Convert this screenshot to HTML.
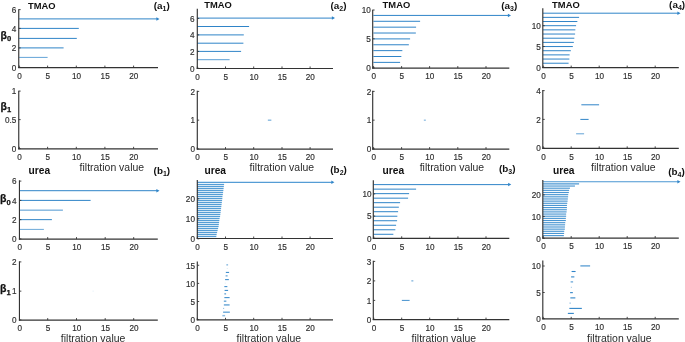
<!DOCTYPE html>
<html><head><meta charset="utf-8"><title>Betti barcodes</title>
<style>
html,body{margin:0;padding:0;background:#fff;}
svg{display:block;font-family:"Liberation Sans","DejaVu Sans",sans-serif;}
</style></head>
<body>
<svg width="685" height="342" viewBox="0 0 685 342">
<rect width="685" height="342" fill="#fff"/>
<line x1="19.10" y1="28.40" x2="78.80" y2="28.40" stroke="#2f84c8" stroke-width="1.0"/>
<line x1="19.10" y1="38.40" x2="76.80" y2="38.40" stroke="#2f84c8" stroke-width="1.0"/>
<line x1="19.10" y1="47.90" x2="63.60" y2="47.90" stroke="#2f84c8" stroke-width="1.0"/>
<line x1="19.10" y1="57.40" x2="47.60" y2="57.40" stroke="#2f84c8" stroke-width="1.0" stroke-opacity="0.75"/>
<line x1="19.10" y1="18.90" x2="157.00" y2="18.90" stroke="#2f84c8" stroke-width="1.0"/>
<path d="M156.40 17.15 L159.50 18.90 L156.40 20.65 Z" fill="#2f84c8"/>
<line x1="18.75" y1="9.30" x2="18.75" y2="68.10" stroke="#333" stroke-width="1.15"/>
<line x1="18.20" y1="67.60" x2="158.00" y2="67.60" stroke="#333" stroke-width="1.15"/>
<line x1="19.30" y1="67.60" x2="19.30" y2="65.60" stroke="#333" stroke-width="0.9"/>
<text transform="translate(19.55,78.95) scale(0.93,1.09)" font-size="8.8" text-anchor="middle" fill="#303030" stroke="#303030" stroke-width="0.18">0</text>
<line x1="47.60" y1="67.60" x2="47.60" y2="65.60" stroke="#333" stroke-width="0.9"/>
<text transform="translate(47.85,78.95) scale(0.93,1.09)" font-size="8.8" text-anchor="middle" fill="#303030" stroke="#303030" stroke-width="0.18">5</text>
<line x1="76.30" y1="67.60" x2="76.30" y2="65.60" stroke="#333" stroke-width="0.9"/>
<text transform="translate(76.55,78.95) scale(0.93,1.09)" font-size="8.8" text-anchor="middle" fill="#303030" stroke="#303030" stroke-width="0.18">10</text>
<line x1="104.90" y1="67.60" x2="104.90" y2="65.60" stroke="#333" stroke-width="0.9"/>
<text transform="translate(105.15,78.95) scale(0.93,1.09)" font-size="8.8" text-anchor="middle" fill="#303030" stroke="#303030" stroke-width="0.18">15</text>
<line x1="133.60" y1="67.60" x2="133.60" y2="65.60" stroke="#333" stroke-width="0.9"/>
<text transform="translate(133.85,78.95) scale(0.93,1.09)" font-size="8.8" text-anchor="middle" fill="#303030" stroke="#303030" stroke-width="0.18">20</text>
<line x1="18.75" y1="9.60" x2="20.65" y2="9.60" stroke="#333" stroke-width="0.9"/>
<text transform="translate(16.30,12.90) scale(0.93,1.09)" font-size="8.8" text-anchor="end" fill="#303030" stroke="#303030" stroke-width="0.18">6</text>
<line x1="18.75" y1="28.40" x2="20.65" y2="28.40" stroke="#333" stroke-width="0.9"/>
<text transform="translate(16.30,31.70) scale(0.93,1.09)" font-size="8.8" text-anchor="end" fill="#303030" stroke="#303030" stroke-width="0.18">4</text>
<line x1="18.75" y1="47.90" x2="20.65" y2="47.90" stroke="#333" stroke-width="0.9"/>
<text transform="translate(16.30,51.20) scale(0.93,1.09)" font-size="8.8" text-anchor="end" fill="#303030" stroke="#303030" stroke-width="0.18">2</text>
<line x1="18.75" y1="67.40" x2="20.65" y2="67.40" stroke="#333" stroke-width="0.9"/>
<text transform="translate(16.30,70.70) scale(0.93,1.09)" font-size="8.8" text-anchor="end" fill="#303030" stroke="#303030" stroke-width="0.18">0</text>
<line x1="197.10" y1="26.50" x2="249.10" y2="26.50" stroke="#2f84c8" stroke-width="1.0"/>
<line x1="197.10" y1="34.90" x2="243.80" y2="34.90" stroke="#2f84c8" stroke-width="1.0"/>
<line x1="197.10" y1="43.20" x2="243.40" y2="43.20" stroke="#2f84c8" stroke-width="1.0"/>
<line x1="197.10" y1="51.40" x2="241.10" y2="51.40" stroke="#2f84c8" stroke-width="1.0"/>
<line x1="197.10" y1="59.70" x2="229.60" y2="59.70" stroke="#2f84c8" stroke-width="1.0" stroke-opacity="0.8"/>
<line x1="197.10" y1="18.10" x2="332.50" y2="18.10" stroke="#2f84c8" stroke-width="1.0"/>
<path d="M331.90 16.35 L335.00 18.10 L331.90 19.85 Z" fill="#2f84c8"/>
<line x1="197.30" y1="8.80" x2="197.30" y2="68.95" stroke="#333" stroke-width="1.15"/>
<line x1="196.75" y1="68.45" x2="333.00" y2="68.45" stroke="#333" stroke-width="1.15"/>
<line x1="197.30" y1="68.45" x2="197.30" y2="66.45" stroke="#333" stroke-width="0.9"/>
<text transform="translate(197.55,79.80) scale(0.93,1.09)" font-size="8.8" text-anchor="middle" fill="#303030" stroke="#303030" stroke-width="0.18">0</text>
<line x1="225.50" y1="68.45" x2="225.50" y2="66.45" stroke="#333" stroke-width="0.9"/>
<text transform="translate(225.75,79.80) scale(0.93,1.09)" font-size="8.8" text-anchor="middle" fill="#303030" stroke="#303030" stroke-width="0.18">5</text>
<line x1="253.70" y1="68.45" x2="253.70" y2="66.45" stroke="#333" stroke-width="0.9"/>
<text transform="translate(253.95,79.80) scale(0.93,1.09)" font-size="8.8" text-anchor="middle" fill="#303030" stroke="#303030" stroke-width="0.18">10</text>
<line x1="282.00" y1="68.45" x2="282.00" y2="66.45" stroke="#333" stroke-width="0.9"/>
<text transform="translate(282.25,79.80) scale(0.93,1.09)" font-size="8.8" text-anchor="middle" fill="#303030" stroke="#303030" stroke-width="0.18">15</text>
<line x1="310.10" y1="68.45" x2="310.10" y2="66.45" stroke="#333" stroke-width="0.9"/>
<text transform="translate(310.35,79.80) scale(0.93,1.09)" font-size="8.8" text-anchor="middle" fill="#303030" stroke="#303030" stroke-width="0.18">20</text>
<line x1="197.30" y1="18.40" x2="199.20" y2="18.40" stroke="#333" stroke-width="0.9"/>
<text transform="translate(194.60,21.70) scale(0.93,1.09)" font-size="8.8" text-anchor="end" fill="#303030" stroke="#303030" stroke-width="0.18">6</text>
<line x1="197.30" y1="34.90" x2="199.20" y2="34.90" stroke="#333" stroke-width="0.9"/>
<text transform="translate(194.60,38.20) scale(0.93,1.09)" font-size="8.8" text-anchor="end" fill="#303030" stroke="#303030" stroke-width="0.18">4</text>
<line x1="197.30" y1="51.40" x2="199.20" y2="51.40" stroke="#333" stroke-width="0.9"/>
<text transform="translate(194.60,54.70) scale(0.93,1.09)" font-size="8.8" text-anchor="end" fill="#303030" stroke="#303030" stroke-width="0.18">2</text>
<line x1="197.30" y1="68.25" x2="199.20" y2="68.25" stroke="#333" stroke-width="0.9"/>
<text transform="translate(194.60,71.55) scale(0.93,1.09)" font-size="8.8" text-anchor="end" fill="#303030" stroke="#303030" stroke-width="0.18">0</text>
<line x1="373.40" y1="21.29" x2="420.10" y2="21.29" stroke="#2f84c8" stroke-width="1.0"/>
<line x1="373.40" y1="27.16" x2="416.10" y2="27.16" stroke="#2f84c8" stroke-width="1.0"/>
<line x1="373.40" y1="33.03" x2="415.85" y2="33.03" stroke="#2f84c8" stroke-width="1.0"/>
<line x1="373.40" y1="38.90" x2="410.10" y2="38.90" stroke="#2f84c8" stroke-width="1.0"/>
<line x1="373.40" y1="44.77" x2="408.85" y2="44.77" stroke="#2f84c8" stroke-width="1.0"/>
<line x1="373.40" y1="50.64" x2="402.35" y2="50.64" stroke="#2f84c8" stroke-width="1.0"/>
<line x1="373.40" y1="56.51" x2="401.35" y2="56.51" stroke="#2f84c8" stroke-width="1.0"/>
<line x1="373.40" y1="62.38" x2="400.10" y2="62.38" stroke="#2f84c8" stroke-width="1.0"/>
<line x1="373.40" y1="15.42" x2="508.50" y2="15.42" stroke="#2f84c8" stroke-width="1.0"/>
<path d="M507.90 13.67 L511.00 15.42 L507.90 17.17 Z" fill="#2f84c8"/>
<line x1="372.70" y1="9.80" x2="372.70" y2="68.60" stroke="#333" stroke-width="1.15"/>
<line x1="372.15" y1="68.10" x2="509.30" y2="68.10" stroke="#333" stroke-width="1.15"/>
<line x1="373.60" y1="68.10" x2="373.60" y2="66.10" stroke="#333" stroke-width="0.9"/>
<text transform="translate(373.85,79.45) scale(0.93,1.09)" font-size="8.8" text-anchor="middle" fill="#303030" stroke="#303030" stroke-width="0.18">0</text>
<line x1="401.60" y1="68.10" x2="401.60" y2="66.10" stroke="#333" stroke-width="0.9"/>
<text transform="translate(401.85,79.45) scale(0.93,1.09)" font-size="8.8" text-anchor="middle" fill="#303030" stroke="#303030" stroke-width="0.18">5</text>
<line x1="429.60" y1="68.10" x2="429.60" y2="66.10" stroke="#333" stroke-width="0.9"/>
<text transform="translate(429.85,79.45) scale(0.93,1.09)" font-size="8.8" text-anchor="middle" fill="#303030" stroke="#303030" stroke-width="0.18">10</text>
<line x1="457.80" y1="68.10" x2="457.80" y2="66.10" stroke="#333" stroke-width="0.9"/>
<text transform="translate(458.05,79.45) scale(0.93,1.09)" font-size="8.8" text-anchor="middle" fill="#303030" stroke="#303030" stroke-width="0.18">15</text>
<line x1="486.00" y1="68.10" x2="486.00" y2="66.10" stroke="#333" stroke-width="0.9"/>
<text transform="translate(486.25,79.45) scale(0.93,1.09)" font-size="8.8" text-anchor="middle" fill="#303030" stroke="#303030" stroke-width="0.18">20</text>
<line x1="372.70" y1="10.00" x2="374.60" y2="10.00" stroke="#333" stroke-width="0.9"/>
<text transform="translate(370.80,13.30) scale(0.93,1.09)" font-size="8.8" text-anchor="end" fill="#303030" stroke="#303030" stroke-width="0.18">10</text>
<line x1="372.70" y1="38.80" x2="374.60" y2="38.80" stroke="#333" stroke-width="0.9"/>
<text transform="translate(370.80,42.10) scale(0.93,1.09)" font-size="8.8" text-anchor="end" fill="#303030" stroke="#303030" stroke-width="0.18">5</text>
<line x1="372.70" y1="67.90" x2="374.60" y2="67.90" stroke="#333" stroke-width="0.9"/>
<text transform="translate(370.80,71.20) scale(0.93,1.09)" font-size="8.8" text-anchor="end" fill="#303030" stroke="#303030" stroke-width="0.18">0</text>
<line x1="543.00" y1="17.36" x2="579.10" y2="17.36" stroke="#2f84c8" stroke-width="1.0"/>
<line x1="543.00" y1="21.53" x2="577.35" y2="21.53" stroke="#2f84c8" stroke-width="1.0"/>
<line x1="543.00" y1="25.70" x2="576.10" y2="25.70" stroke="#2f84c8" stroke-width="1.0"/>
<line x1="543.00" y1="29.87" x2="575.35" y2="29.87" stroke="#2f84c8" stroke-width="1.0"/>
<line x1="543.00" y1="34.04" x2="575.10" y2="34.04" stroke="#2f84c8" stroke-width="1.0"/>
<line x1="543.00" y1="38.21" x2="574.35" y2="38.21" stroke="#2f84c8" stroke-width="1.0"/>
<line x1="543.00" y1="42.38" x2="573.85" y2="42.38" stroke="#2f84c8" stroke-width="1.0"/>
<line x1="543.00" y1="46.55" x2="572.85" y2="46.55" stroke="#2f84c8" stroke-width="1.0"/>
<line x1="543.00" y1="50.72" x2="570.85" y2="50.72" stroke="#2f84c8" stroke-width="1.0"/>
<line x1="543.00" y1="54.89" x2="569.60" y2="54.89" stroke="#2f84c8" stroke-width="1.0"/>
<line x1="543.00" y1="59.06" x2="569.35" y2="59.06" stroke="#2f84c8" stroke-width="1.0"/>
<line x1="543.00" y1="63.23" x2="568.60" y2="63.23" stroke="#2f84c8" stroke-width="1.0"/>
<line x1="543.00" y1="13.19" x2="678.00" y2="13.19" stroke="#2f84c8" stroke-width="1.0"/>
<path d="M677.40 11.44 L680.50 13.19 L677.40 14.94 Z" fill="#2f84c8"/>
<line x1="542.80" y1="8.20" x2="542.80" y2="68.10" stroke="#333" stroke-width="1.15"/>
<line x1="542.25" y1="67.60" x2="678.80" y2="67.60" stroke="#333" stroke-width="1.15"/>
<line x1="543.20" y1="67.60" x2="543.20" y2="65.60" stroke="#333" stroke-width="0.9"/>
<text transform="translate(543.45,78.95) scale(0.93,1.09)" font-size="8.8" text-anchor="middle" fill="#303030" stroke="#303030" stroke-width="0.18">0</text>
<line x1="571.20" y1="67.60" x2="571.20" y2="65.60" stroke="#333" stroke-width="0.9"/>
<text transform="translate(571.45,78.95) scale(0.93,1.09)" font-size="8.8" text-anchor="middle" fill="#303030" stroke="#303030" stroke-width="0.18">5</text>
<line x1="599.20" y1="67.60" x2="599.20" y2="65.60" stroke="#333" stroke-width="0.9"/>
<text transform="translate(599.45,78.95) scale(0.93,1.09)" font-size="8.8" text-anchor="middle" fill="#303030" stroke="#303030" stroke-width="0.18">10</text>
<line x1="627.20" y1="67.60" x2="627.20" y2="65.60" stroke="#333" stroke-width="0.9"/>
<text transform="translate(627.45,78.95) scale(0.93,1.09)" font-size="8.8" text-anchor="middle" fill="#303030" stroke="#303030" stroke-width="0.18">15</text>
<line x1="655.20" y1="67.60" x2="655.20" y2="65.60" stroke="#333" stroke-width="0.9"/>
<text transform="translate(655.45,78.95) scale(0.93,1.09)" font-size="8.8" text-anchor="middle" fill="#303030" stroke="#303030" stroke-width="0.18">20</text>
<line x1="542.80" y1="25.70" x2="544.70" y2="25.70" stroke="#333" stroke-width="0.9"/>
<text transform="translate(540.90,29.00) scale(0.93,1.09)" font-size="8.8" text-anchor="end" fill="#303030" stroke="#303030" stroke-width="0.18">10</text>
<line x1="542.80" y1="46.50" x2="544.70" y2="46.50" stroke="#333" stroke-width="0.9"/>
<text transform="translate(540.90,49.80) scale(0.93,1.09)" font-size="8.8" text-anchor="end" fill="#303030" stroke="#303030" stroke-width="0.18">5</text>
<line x1="542.80" y1="67.40" x2="544.70" y2="67.40" stroke="#333" stroke-width="0.9"/>
<text transform="translate(540.90,70.70) scale(0.93,1.09)" font-size="8.8" text-anchor="end" fill="#303030" stroke="#303030" stroke-width="0.18">0</text>
<line x1="18.75" y1="90.80" x2="18.75" y2="149.30" stroke="#333" stroke-width="1.15"/>
<line x1="18.20" y1="148.80" x2="158.00" y2="148.80" stroke="#333" stroke-width="1.15"/>
<line x1="19.30" y1="148.80" x2="19.30" y2="146.80" stroke="#333" stroke-width="0.9"/>
<text transform="translate(19.55,160.15) scale(0.93,1.09)" font-size="8.8" text-anchor="middle" fill="#303030" stroke="#303030" stroke-width="0.18">0</text>
<line x1="47.60" y1="148.80" x2="47.60" y2="146.80" stroke="#333" stroke-width="0.9"/>
<text transform="translate(47.85,160.15) scale(0.93,1.09)" font-size="8.8" text-anchor="middle" fill="#303030" stroke="#303030" stroke-width="0.18">5</text>
<line x1="76.30" y1="148.80" x2="76.30" y2="146.80" stroke="#333" stroke-width="0.9"/>
<text transform="translate(76.55,160.15) scale(0.93,1.09)" font-size="8.8" text-anchor="middle" fill="#303030" stroke="#303030" stroke-width="0.18">10</text>
<line x1="104.90" y1="148.80" x2="104.90" y2="146.80" stroke="#333" stroke-width="0.9"/>
<text transform="translate(105.15,160.15) scale(0.93,1.09)" font-size="8.8" text-anchor="middle" fill="#303030" stroke="#303030" stroke-width="0.18">15</text>
<line x1="133.60" y1="148.80" x2="133.60" y2="146.80" stroke="#333" stroke-width="0.9"/>
<text transform="translate(133.85,160.15) scale(0.93,1.09)" font-size="8.8" text-anchor="middle" fill="#303030" stroke="#303030" stroke-width="0.18">20</text>
<line x1="18.75" y1="91.10" x2="20.65" y2="91.10" stroke="#333" stroke-width="0.9"/>
<text transform="translate(16.30,94.40) scale(0.93,1.09)" font-size="8.8" text-anchor="end" fill="#303030" stroke="#303030" stroke-width="0.18">1</text>
<line x1="18.75" y1="119.60" x2="20.65" y2="119.60" stroke="#333" stroke-width="0.9"/>
<text transform="translate(16.30,122.90) scale(0.93,1.09)" font-size="8.8" text-anchor="end" fill="#303030" stroke="#303030" stroke-width="0.18">0.5</text>
<line x1="18.75" y1="148.60" x2="20.65" y2="148.60" stroke="#333" stroke-width="0.9"/>
<text transform="translate(16.30,151.90) scale(0.93,1.09)" font-size="8.8" text-anchor="end" fill="#303030" stroke="#303030" stroke-width="0.18">0</text>
<line x1="267.85" y1="120.15" x2="271.35" y2="120.15" stroke="#2f84c8" stroke-width="1.0" stroke-opacity="0.8"/>
<line x1="197.30" y1="90.80" x2="197.30" y2="149.60" stroke="#333" stroke-width="1.15"/>
<line x1="196.75" y1="149.10" x2="333.00" y2="149.10" stroke="#333" stroke-width="1.15"/>
<line x1="197.30" y1="149.10" x2="197.30" y2="147.10" stroke="#333" stroke-width="0.9"/>
<text transform="translate(197.55,160.45) scale(0.93,1.09)" font-size="8.8" text-anchor="middle" fill="#303030" stroke="#303030" stroke-width="0.18">0</text>
<line x1="225.50" y1="149.10" x2="225.50" y2="147.10" stroke="#333" stroke-width="0.9"/>
<text transform="translate(225.75,160.45) scale(0.93,1.09)" font-size="8.8" text-anchor="middle" fill="#303030" stroke="#303030" stroke-width="0.18">5</text>
<line x1="253.70" y1="149.10" x2="253.70" y2="147.10" stroke="#333" stroke-width="0.9"/>
<text transform="translate(253.95,160.45) scale(0.93,1.09)" font-size="8.8" text-anchor="middle" fill="#303030" stroke="#303030" stroke-width="0.18">10</text>
<line x1="282.00" y1="149.10" x2="282.00" y2="147.10" stroke="#333" stroke-width="0.9"/>
<text transform="translate(282.25,160.45) scale(0.93,1.09)" font-size="8.8" text-anchor="middle" fill="#303030" stroke="#303030" stroke-width="0.18">15</text>
<line x1="310.10" y1="149.10" x2="310.10" y2="147.10" stroke="#333" stroke-width="0.9"/>
<text transform="translate(310.35,160.45) scale(0.93,1.09)" font-size="8.8" text-anchor="middle" fill="#303030" stroke="#303030" stroke-width="0.18">20</text>
<line x1="197.30" y1="91.40" x2="199.20" y2="91.40" stroke="#333" stroke-width="0.9"/>
<text transform="translate(194.95,94.70) scale(0.93,1.09)" font-size="8.8" text-anchor="end" fill="#303030" stroke="#303030" stroke-width="0.18">2</text>
<line x1="197.30" y1="120.15" x2="199.20" y2="120.15" stroke="#333" stroke-width="0.9"/>
<text transform="translate(194.95,123.45) scale(0.93,1.09)" font-size="8.8" text-anchor="end" fill="#303030" stroke="#303030" stroke-width="0.18">1</text>
<line x1="197.30" y1="148.90" x2="199.20" y2="148.90" stroke="#333" stroke-width="0.9"/>
<text transform="translate(194.95,152.20) scale(0.93,1.09)" font-size="8.8" text-anchor="end" fill="#303030" stroke="#303030" stroke-width="0.18">0</text>
<line x1="423.85" y1="120.15" x2="425.85" y2="120.15" stroke="#2f84c8" stroke-width="1.0" stroke-opacity="0.7"/>
<line x1="372.70" y1="90.80" x2="372.70" y2="149.60" stroke="#333" stroke-width="1.15"/>
<line x1="372.15" y1="149.10" x2="509.30" y2="149.10" stroke="#333" stroke-width="1.15"/>
<line x1="373.60" y1="149.10" x2="373.60" y2="147.10" stroke="#333" stroke-width="0.9"/>
<text transform="translate(373.85,160.45) scale(0.93,1.09)" font-size="8.8" text-anchor="middle" fill="#303030" stroke="#303030" stroke-width="0.18">0</text>
<line x1="401.60" y1="149.10" x2="401.60" y2="147.10" stroke="#333" stroke-width="0.9"/>
<text transform="translate(401.85,160.45) scale(0.93,1.09)" font-size="8.8" text-anchor="middle" fill="#303030" stroke="#303030" stroke-width="0.18">5</text>
<line x1="429.60" y1="149.10" x2="429.60" y2="147.10" stroke="#333" stroke-width="0.9"/>
<text transform="translate(429.85,160.45) scale(0.93,1.09)" font-size="8.8" text-anchor="middle" fill="#303030" stroke="#303030" stroke-width="0.18">10</text>
<line x1="457.80" y1="149.10" x2="457.80" y2="147.10" stroke="#333" stroke-width="0.9"/>
<text transform="translate(458.05,160.45) scale(0.93,1.09)" font-size="8.8" text-anchor="middle" fill="#303030" stroke="#303030" stroke-width="0.18">15</text>
<line x1="486.00" y1="149.10" x2="486.00" y2="147.10" stroke="#333" stroke-width="0.9"/>
<text transform="translate(486.25,160.45) scale(0.93,1.09)" font-size="8.8" text-anchor="middle" fill="#303030" stroke="#303030" stroke-width="0.18">20</text>
<line x1="372.70" y1="91.40" x2="374.60" y2="91.40" stroke="#333" stroke-width="0.9"/>
<text transform="translate(371.25,94.70) scale(0.93,1.09)" font-size="8.8" text-anchor="end" fill="#303030" stroke="#303030" stroke-width="0.18">2</text>
<line x1="372.70" y1="120.15" x2="374.60" y2="120.15" stroke="#333" stroke-width="0.9"/>
<text transform="translate(371.25,123.45) scale(0.93,1.09)" font-size="8.8" text-anchor="end" fill="#303030" stroke="#303030" stroke-width="0.18">1</text>
<line x1="372.70" y1="148.90" x2="374.60" y2="148.90" stroke="#333" stroke-width="0.9"/>
<text transform="translate(371.25,152.20) scale(0.93,1.09)" font-size="8.8" text-anchor="end" fill="#303030" stroke="#303030" stroke-width="0.18">0</text>
<line x1="581.35" y1="104.80" x2="599.10" y2="104.80" stroke="#2f84c8" stroke-width="1.0"/>
<line x1="580.35" y1="119.40" x2="588.60" y2="119.40" stroke="#2f84c8" stroke-width="1.0"/>
<line x1="576.10" y1="133.80" x2="584.10" y2="133.80" stroke="#2f84c8" stroke-width="1.0" stroke-opacity="0.75"/>
<line x1="542.80" y1="90.05" x2="542.80" y2="148.85" stroke="#333" stroke-width="1.15"/>
<line x1="542.25" y1="148.35" x2="678.80" y2="148.35" stroke="#333" stroke-width="1.15"/>
<line x1="543.20" y1="148.35" x2="543.20" y2="146.35" stroke="#333" stroke-width="0.9"/>
<text transform="translate(543.45,159.70) scale(0.93,1.09)" font-size="8.8" text-anchor="middle" fill="#303030" stroke="#303030" stroke-width="0.18">0</text>
<line x1="571.20" y1="148.35" x2="571.20" y2="146.35" stroke="#333" stroke-width="0.9"/>
<text transform="translate(571.45,159.70) scale(0.93,1.09)" font-size="8.8" text-anchor="middle" fill="#303030" stroke="#303030" stroke-width="0.18">5</text>
<line x1="599.20" y1="148.35" x2="599.20" y2="146.35" stroke="#333" stroke-width="0.9"/>
<text transform="translate(599.45,159.70) scale(0.93,1.09)" font-size="8.8" text-anchor="middle" fill="#303030" stroke="#303030" stroke-width="0.18">10</text>
<line x1="627.20" y1="148.35" x2="627.20" y2="146.35" stroke="#333" stroke-width="0.9"/>
<text transform="translate(627.45,159.70) scale(0.93,1.09)" font-size="8.8" text-anchor="middle" fill="#303030" stroke="#303030" stroke-width="0.18">15</text>
<line x1="655.20" y1="148.35" x2="655.20" y2="146.35" stroke="#333" stroke-width="0.9"/>
<text transform="translate(655.45,159.70) scale(0.93,1.09)" font-size="8.8" text-anchor="middle" fill="#303030" stroke="#303030" stroke-width="0.18">20</text>
<line x1="542.80" y1="90.65" x2="544.70" y2="90.65" stroke="#333" stroke-width="0.9"/>
<text transform="translate(540.85,93.95) scale(0.93,1.09)" font-size="8.8" text-anchor="end" fill="#303030" stroke="#303030" stroke-width="0.18">4</text>
<line x1="542.80" y1="119.40" x2="544.70" y2="119.40" stroke="#333" stroke-width="0.9"/>
<text transform="translate(540.85,122.70) scale(0.93,1.09)" font-size="8.8" text-anchor="end" fill="#303030" stroke="#303030" stroke-width="0.18">2</text>
<line x1="542.80" y1="148.15" x2="544.70" y2="148.15" stroke="#333" stroke-width="0.9"/>
<text transform="translate(540.85,151.45) scale(0.93,1.09)" font-size="8.8" text-anchor="end" fill="#303030" stroke="#303030" stroke-width="0.18">0</text>
<line x1="19.30" y1="200.40" x2="90.60" y2="200.40" stroke="#2f84c8" stroke-width="1.0"/>
<line x1="19.30" y1="210.15" x2="62.90" y2="210.15" stroke="#2f84c8" stroke-width="1.0" stroke-opacity="0.85"/>
<line x1="19.30" y1="219.65" x2="51.90" y2="219.65" stroke="#2f84c8" stroke-width="1.0"/>
<line x1="19.30" y1="229.40" x2="43.90" y2="229.40" stroke="#2f84c8" stroke-width="1.0" stroke-opacity="0.7"/>
<line x1="19.30" y1="190.70" x2="157.00" y2="190.70" stroke="#2f84c8" stroke-width="1.0"/>
<path d="M156.40 188.95 L159.50 190.70 L156.40 192.45 Z" fill="#2f84c8"/>
<line x1="19.45" y1="180.30" x2="19.45" y2="239.60" stroke="#333" stroke-width="1.15"/>
<line x1="18.90" y1="239.10" x2="157.80" y2="239.10" stroke="#333" stroke-width="1.15"/>
<line x1="19.50" y1="239.10" x2="19.50" y2="237.10" stroke="#333" stroke-width="0.9"/>
<text transform="translate(19.75,250.45) scale(0.93,1.09)" font-size="8.8" text-anchor="middle" fill="#303030" stroke="#303030" stroke-width="0.18">0</text>
<line x1="47.70" y1="239.10" x2="47.70" y2="237.10" stroke="#333" stroke-width="0.9"/>
<text transform="translate(47.95,250.45) scale(0.93,1.09)" font-size="8.8" text-anchor="middle" fill="#303030" stroke="#303030" stroke-width="0.18">5</text>
<line x1="76.50" y1="239.10" x2="76.50" y2="237.10" stroke="#333" stroke-width="0.9"/>
<text transform="translate(76.75,250.45) scale(0.93,1.09)" font-size="8.8" text-anchor="middle" fill="#303030" stroke="#303030" stroke-width="0.18">10</text>
<line x1="105.20" y1="239.10" x2="105.20" y2="237.10" stroke="#333" stroke-width="0.9"/>
<text transform="translate(105.45,250.45) scale(0.93,1.09)" font-size="8.8" text-anchor="middle" fill="#303030" stroke="#303030" stroke-width="0.18">15</text>
<line x1="133.70" y1="239.10" x2="133.70" y2="237.10" stroke="#333" stroke-width="0.9"/>
<text transform="translate(133.95,250.45) scale(0.93,1.09)" font-size="8.8" text-anchor="middle" fill="#303030" stroke="#303030" stroke-width="0.18">20</text>
<line x1="19.45" y1="181.10" x2="21.35" y2="181.10" stroke="#333" stroke-width="0.9"/>
<text transform="translate(16.50,184.40) scale(0.93,1.09)" font-size="8.8" text-anchor="end" fill="#303030" stroke="#303030" stroke-width="0.18">6</text>
<line x1="19.45" y1="200.40" x2="21.35" y2="200.40" stroke="#333" stroke-width="0.9"/>
<text transform="translate(16.50,203.70) scale(0.93,1.09)" font-size="8.8" text-anchor="end" fill="#303030" stroke="#303030" stroke-width="0.18">4</text>
<line x1="19.45" y1="219.65" x2="21.35" y2="219.65" stroke="#333" stroke-width="0.9"/>
<text transform="translate(16.50,222.95) scale(0.93,1.09)" font-size="8.8" text-anchor="end" fill="#303030" stroke="#303030" stroke-width="0.18">2</text>
<line x1="19.45" y1="238.90" x2="21.35" y2="238.90" stroke="#333" stroke-width="0.9"/>
<text transform="translate(16.50,242.20) scale(0.93,1.09)" font-size="8.8" text-anchor="end" fill="#303030" stroke="#303030" stroke-width="0.18">0</text>
<line x1="197.10" y1="236.50" x2="216.35" y2="236.50" stroke="#559dd5" stroke-width="1.25"/>
<line x1="197.10" y1="234.50" x2="216.60" y2="234.50" stroke="#559dd5" stroke-width="1.25"/>
<line x1="197.10" y1="232.50" x2="217.10" y2="232.50" stroke="#559dd5" stroke-width="1.25"/>
<line x1="197.10" y1="230.50" x2="217.60" y2="230.50" stroke="#559dd5" stroke-width="1.25"/>
<line x1="197.10" y1="228.50" x2="218.10" y2="228.50" stroke="#559dd5" stroke-width="1.25"/>
<line x1="197.10" y1="226.50" x2="218.60" y2="226.50" stroke="#559dd5" stroke-width="1.25"/>
<line x1="197.10" y1="224.50" x2="218.85" y2="224.50" stroke="#559dd5" stroke-width="1.25"/>
<line x1="197.10" y1="222.50" x2="219.10" y2="222.50" stroke="#559dd5" stroke-width="1.25"/>
<line x1="197.10" y1="220.50" x2="219.35" y2="220.50" stroke="#559dd5" stroke-width="1.25"/>
<line x1="197.10" y1="218.50" x2="219.60" y2="218.50" stroke="#559dd5" stroke-width="1.25"/>
<line x1="197.10" y1="216.50" x2="220.10" y2="216.50" stroke="#559dd5" stroke-width="1.25"/>
<line x1="197.10" y1="214.50" x2="220.35" y2="214.50" stroke="#559dd5" stroke-width="1.25"/>
<line x1="197.10" y1="212.50" x2="220.60" y2="212.50" stroke="#559dd5" stroke-width="1.25"/>
<line x1="197.10" y1="210.50" x2="220.85" y2="210.50" stroke="#559dd5" stroke-width="1.25"/>
<line x1="197.10" y1="208.50" x2="221.10" y2="208.50" stroke="#559dd5" stroke-width="1.25"/>
<line x1="197.10" y1="206.50" x2="221.35" y2="206.50" stroke="#559dd5" stroke-width="1.25"/>
<line x1="197.10" y1="204.50" x2="221.60" y2="204.50" stroke="#559dd5" stroke-width="1.25"/>
<line x1="197.10" y1="202.50" x2="221.85" y2="202.50" stroke="#559dd5" stroke-width="1.25"/>
<line x1="197.10" y1="200.50" x2="222.10" y2="200.50" stroke="#559dd5" stroke-width="1.25"/>
<line x1="197.10" y1="198.50" x2="222.35" y2="198.50" stroke="#559dd5" stroke-width="1.25"/>
<line x1="197.10" y1="196.50" x2="222.45" y2="196.50" stroke="#559dd5" stroke-width="1.25"/>
<line x1="197.10" y1="194.50" x2="222.85" y2="194.50" stroke="#559dd5" stroke-width="1.25"/>
<line x1="197.10" y1="192.50" x2="223.10" y2="192.50" stroke="#559dd5" stroke-width="1.25"/>
<line x1="197.10" y1="190.50" x2="223.35" y2="190.50" stroke="#559dd5" stroke-width="1.25"/>
<line x1="197.10" y1="188.50" x2="223.60" y2="188.50" stroke="#559dd5" stroke-width="1.25"/>
<line x1="197.10" y1="186.50" x2="223.85" y2="186.50" stroke="#559dd5" stroke-width="1.25"/>
<line x1="197.10" y1="184.50" x2="224.10" y2="184.50" stroke="#559dd5" stroke-width="1.25"/>
<line x1="197.10" y1="182.30" x2="331.90" y2="182.30" stroke="#559dd5" stroke-width="1.25"/>
<path d="M331.30 180.55 L334.40 182.30 L331.30 184.05 Z" fill="#2f84c8"/>
<line x1="197.30" y1="179.90" x2="197.30" y2="239.00" stroke="#333" stroke-width="1.15"/>
<line x1="196.75" y1="238.50" x2="333.00" y2="238.50" stroke="#333" stroke-width="1.15"/>
<line x1="197.30" y1="238.50" x2="197.30" y2="236.50" stroke="#333" stroke-width="0.9"/>
<text transform="translate(197.55,249.85) scale(0.93,1.09)" font-size="8.8" text-anchor="middle" fill="#303030" stroke="#303030" stroke-width="0.18">0</text>
<line x1="225.50" y1="238.50" x2="225.50" y2="236.50" stroke="#333" stroke-width="0.9"/>
<text transform="translate(225.75,249.85) scale(0.93,1.09)" font-size="8.8" text-anchor="middle" fill="#303030" stroke="#303030" stroke-width="0.18">5</text>
<line x1="253.70" y1="238.50" x2="253.70" y2="236.50" stroke="#333" stroke-width="0.9"/>
<text transform="translate(253.95,249.85) scale(0.93,1.09)" font-size="8.8" text-anchor="middle" fill="#303030" stroke="#303030" stroke-width="0.18">10</text>
<line x1="282.00" y1="238.50" x2="282.00" y2="236.50" stroke="#333" stroke-width="0.9"/>
<text transform="translate(282.25,249.85) scale(0.93,1.09)" font-size="8.8" text-anchor="middle" fill="#303030" stroke="#303030" stroke-width="0.18">15</text>
<line x1="310.10" y1="238.50" x2="310.10" y2="236.50" stroke="#333" stroke-width="0.9"/>
<text transform="translate(310.35,249.85) scale(0.93,1.09)" font-size="8.8" text-anchor="middle" fill="#303030" stroke="#303030" stroke-width="0.18">20</text>
<line x1="197.30" y1="198.80" x2="199.20" y2="198.80" stroke="#333" stroke-width="0.9"/>
<text transform="translate(194.95,202.10) scale(0.93,1.09)" font-size="8.8" text-anchor="end" fill="#303030" stroke="#303030" stroke-width="0.18">20</text>
<line x1="197.30" y1="218.80" x2="199.20" y2="218.80" stroke="#333" stroke-width="0.9"/>
<text transform="translate(194.95,222.10) scale(0.93,1.09)" font-size="8.8" text-anchor="end" fill="#303030" stroke="#303030" stroke-width="0.18">10</text>
<line x1="197.30" y1="238.80" x2="199.20" y2="238.80" stroke="#333" stroke-width="0.9"/>
<text transform="translate(194.95,242.10) scale(0.93,1.09)" font-size="8.8" text-anchor="end" fill="#303030" stroke="#303030" stroke-width="0.18">0</text>
<line x1="373.50" y1="189.14" x2="416.10" y2="189.14" stroke="#2f84c8" stroke-width="1.0"/>
<line x1="373.50" y1="193.65" x2="409.10" y2="193.65" stroke="#2f84c8" stroke-width="1.0"/>
<line x1="373.50" y1="198.17" x2="408.10" y2="198.17" stroke="#2f84c8" stroke-width="1.0"/>
<line x1="373.50" y1="202.68" x2="400.10" y2="202.68" stroke="#2f84c8" stroke-width="1.0"/>
<line x1="373.50" y1="207.20" x2="398.85" y2="207.20" stroke="#2f84c8" stroke-width="1.0"/>
<line x1="373.50" y1="211.71" x2="398.10" y2="211.71" stroke="#2f84c8" stroke-width="1.0"/>
<line x1="373.50" y1="216.23" x2="397.35" y2="216.23" stroke="#2f84c8" stroke-width="1.0"/>
<line x1="373.50" y1="220.74" x2="397.10" y2="220.74" stroke="#2f84c8" stroke-width="1.0"/>
<line x1="373.50" y1="225.26" x2="396.10" y2="225.26" stroke="#2f84c8" stroke-width="1.0"/>
<line x1="373.50" y1="229.77" x2="395.35" y2="229.77" stroke="#2f84c8" stroke-width="1.0"/>
<line x1="373.50" y1="234.29" x2="393.35" y2="234.29" stroke="#2f84c8" stroke-width="1.0"/>
<line x1="373.50" y1="184.62" x2="508.75" y2="184.62" stroke="#2f84c8" stroke-width="1.0"/>
<path d="M508.15 182.87 L511.25 184.62 L508.15 186.37 Z" fill="#2f84c8"/>
<line x1="373.30" y1="180.30" x2="373.30" y2="238.80" stroke="#333" stroke-width="1.15"/>
<line x1="372.75" y1="238.30" x2="509.30" y2="238.30" stroke="#333" stroke-width="1.15"/>
<line x1="373.70" y1="238.30" x2="373.70" y2="236.30" stroke="#333" stroke-width="0.9"/>
<text transform="translate(373.95,249.65) scale(0.93,1.09)" font-size="8.8" text-anchor="middle" fill="#303030" stroke="#303030" stroke-width="0.18">0</text>
<line x1="401.70" y1="238.30" x2="401.70" y2="236.30" stroke="#333" stroke-width="0.9"/>
<text transform="translate(401.95,249.65) scale(0.93,1.09)" font-size="8.8" text-anchor="middle" fill="#303030" stroke="#303030" stroke-width="0.18">5</text>
<line x1="429.70" y1="238.30" x2="429.70" y2="236.30" stroke="#333" stroke-width="0.9"/>
<text transform="translate(429.95,249.65) scale(0.93,1.09)" font-size="8.8" text-anchor="middle" fill="#303030" stroke="#303030" stroke-width="0.18">10</text>
<line x1="457.95" y1="238.30" x2="457.95" y2="236.30" stroke="#333" stroke-width="0.9"/>
<text transform="translate(458.20,249.65) scale(0.93,1.09)" font-size="8.8" text-anchor="middle" fill="#303030" stroke="#303030" stroke-width="0.18">15</text>
<line x1="486.00" y1="238.30" x2="486.00" y2="236.30" stroke="#333" stroke-width="0.9"/>
<text transform="translate(486.25,249.65) scale(0.93,1.09)" font-size="8.8" text-anchor="middle" fill="#303030" stroke="#303030" stroke-width="0.18">20</text>
<line x1="373.30" y1="193.90" x2="375.20" y2="193.90" stroke="#333" stroke-width="0.9"/>
<text transform="translate(371.50,197.20) scale(0.93,1.09)" font-size="8.8" text-anchor="end" fill="#303030" stroke="#303030" stroke-width="0.18">10</text>
<line x1="373.30" y1="216.10" x2="375.20" y2="216.10" stroke="#333" stroke-width="0.9"/>
<text transform="translate(371.50,219.40) scale(0.93,1.09)" font-size="8.8" text-anchor="end" fill="#303030" stroke="#303030" stroke-width="0.18">5</text>
<line x1="373.30" y1="238.30" x2="375.20" y2="238.30" stroke="#333" stroke-width="0.9"/>
<text transform="translate(371.50,241.60) scale(0.93,1.09)" font-size="8.8" text-anchor="end" fill="#303030" stroke="#303030" stroke-width="0.18">0</text>
<line x1="543.00" y1="235.61" x2="563.85" y2="235.61" stroke="#4a96d2" stroke-width="1.15"/>
<line x1="543.00" y1="233.45" x2="564.10" y2="233.45" stroke="#4a96d2" stroke-width="1.15"/>
<line x1="543.00" y1="231.30" x2="564.25" y2="231.30" stroke="#4a96d2" stroke-width="1.15"/>
<line x1="543.00" y1="229.14" x2="564.85" y2="229.14" stroke="#4a96d2" stroke-width="1.15"/>
<line x1="543.00" y1="226.99" x2="564.95" y2="226.99" stroke="#4a96d2" stroke-width="1.15"/>
<line x1="543.00" y1="224.83" x2="565.10" y2="224.83" stroke="#4a96d2" stroke-width="1.15"/>
<line x1="543.00" y1="222.68" x2="565.25" y2="222.68" stroke="#4a96d2" stroke-width="1.15"/>
<line x1="543.00" y1="220.52" x2="565.85" y2="220.52" stroke="#4a96d2" stroke-width="1.15"/>
<line x1="543.00" y1="218.37" x2="565.85" y2="218.37" stroke="#4a96d2" stroke-width="1.15"/>
<line x1="543.00" y1="216.21" x2="566.15" y2="216.21" stroke="#4a96d2" stroke-width="1.15"/>
<line x1="543.00" y1="214.06" x2="566.15" y2="214.06" stroke="#4a96d2" stroke-width="1.15"/>
<line x1="543.00" y1="211.90" x2="566.60" y2="211.90" stroke="#4a96d2" stroke-width="1.15"/>
<line x1="543.00" y1="209.75" x2="566.85" y2="209.75" stroke="#4a96d2" stroke-width="1.15"/>
<line x1="543.00" y1="207.59" x2="566.95" y2="207.59" stroke="#4a96d2" stroke-width="1.15"/>
<line x1="543.00" y1="205.44" x2="566.95" y2="205.44" stroke="#4a96d2" stroke-width="1.15"/>
<line x1="543.00" y1="203.28" x2="567.25" y2="203.28" stroke="#4a96d2" stroke-width="1.15"/>
<line x1="543.00" y1="201.13" x2="567.60" y2="201.13" stroke="#4a96d2" stroke-width="1.15"/>
<line x1="543.00" y1="198.97" x2="567.85" y2="198.97" stroke="#4a96d2" stroke-width="1.15"/>
<line x1="543.00" y1="196.82" x2="568.10" y2="196.82" stroke="#4a96d2" stroke-width="1.15"/>
<line x1="543.00" y1="194.66" x2="568.25" y2="194.66" stroke="#4a96d2" stroke-width="1.15"/>
<line x1="543.00" y1="192.51" x2="568.85" y2="192.51" stroke="#4a96d2" stroke-width="1.15"/>
<line x1="543.00" y1="190.35" x2="569.10" y2="190.35" stroke="#4a96d2" stroke-width="1.15"/>
<line x1="543.00" y1="188.20" x2="569.95" y2="188.20" stroke="#4a96d2" stroke-width="1.15"/>
<line x1="543.00" y1="186.04" x2="574.95" y2="186.04" stroke="#4a96d2" stroke-width="1.15"/>
<line x1="543.00" y1="183.89" x2="579.10" y2="183.89" stroke="#4a96d2" stroke-width="1.15"/>
<line x1="543.00" y1="181.73" x2="678.00" y2="181.73" stroke="#4a96d2" stroke-width="1.15"/>
<path d="M677.40 179.98 L680.50 181.73 L677.40 183.48 Z" fill="#2f84c8"/>
<line x1="542.80" y1="179.90" x2="542.80" y2="238.55" stroke="#333" stroke-width="1.15"/>
<line x1="542.25" y1="238.05" x2="678.80" y2="238.05" stroke="#333" stroke-width="1.15"/>
<line x1="543.20" y1="238.05" x2="543.20" y2="236.05" stroke="#333" stroke-width="0.9"/>
<text transform="translate(543.45,249.40) scale(0.93,1.09)" font-size="8.8" text-anchor="middle" fill="#303030" stroke="#303030" stroke-width="0.18">0</text>
<line x1="571.20" y1="238.05" x2="571.20" y2="236.05" stroke="#333" stroke-width="0.9"/>
<text transform="translate(571.45,249.40) scale(0.93,1.09)" font-size="8.8" text-anchor="middle" fill="#303030" stroke="#303030" stroke-width="0.18">5</text>
<line x1="599.20" y1="238.05" x2="599.20" y2="236.05" stroke="#333" stroke-width="0.9"/>
<text transform="translate(599.45,249.40) scale(0.93,1.09)" font-size="8.8" text-anchor="middle" fill="#303030" stroke="#303030" stroke-width="0.18">10</text>
<line x1="627.20" y1="238.05" x2="627.20" y2="236.05" stroke="#333" stroke-width="0.9"/>
<text transform="translate(627.45,249.40) scale(0.93,1.09)" font-size="8.8" text-anchor="middle" fill="#303030" stroke="#303030" stroke-width="0.18">15</text>
<line x1="655.20" y1="238.05" x2="655.20" y2="236.05" stroke="#333" stroke-width="0.9"/>
<text transform="translate(655.45,249.40) scale(0.93,1.09)" font-size="8.8" text-anchor="middle" fill="#303030" stroke="#303030" stroke-width="0.18">20</text>
<line x1="542.80" y1="194.90" x2="544.70" y2="194.90" stroke="#333" stroke-width="0.9"/>
<text transform="translate(540.85,198.20) scale(0.93,1.09)" font-size="8.8" text-anchor="end" fill="#303030" stroke="#303030" stroke-width="0.18">20</text>
<line x1="542.80" y1="216.50" x2="544.70" y2="216.50" stroke="#333" stroke-width="0.9"/>
<text transform="translate(540.85,219.80) scale(0.93,1.09)" font-size="8.8" text-anchor="end" fill="#303030" stroke="#303030" stroke-width="0.18">10</text>
<line x1="542.80" y1="238.30" x2="544.70" y2="238.30" stroke="#333" stroke-width="0.9"/>
<text transform="translate(540.85,241.60) scale(0.93,1.09)" font-size="8.8" text-anchor="end" fill="#303030" stroke="#303030" stroke-width="0.18">0</text>
<line x1="92.60" y1="291.15" x2="93.60" y2="291.15" stroke="#2f84c8" stroke-width="1.0" stroke-opacity="0.15"/>
<line x1="19.45" y1="261.30" x2="19.45" y2="320.60" stroke="#333" stroke-width="1.15"/>
<line x1="18.90" y1="320.10" x2="157.80" y2="320.10" stroke="#333" stroke-width="1.15"/>
<line x1="19.50" y1="320.10" x2="19.50" y2="318.10" stroke="#333" stroke-width="0.9"/>
<text transform="translate(19.75,331.45) scale(0.93,1.09)" font-size="8.8" text-anchor="middle" fill="#303030" stroke="#303030" stroke-width="0.18">0</text>
<line x1="47.70" y1="320.10" x2="47.70" y2="318.10" stroke="#333" stroke-width="0.9"/>
<text transform="translate(47.95,331.45) scale(0.93,1.09)" font-size="8.8" text-anchor="middle" fill="#303030" stroke="#303030" stroke-width="0.18">5</text>
<line x1="76.50" y1="320.10" x2="76.50" y2="318.10" stroke="#333" stroke-width="0.9"/>
<text transform="translate(76.75,331.45) scale(0.93,1.09)" font-size="8.8" text-anchor="middle" fill="#303030" stroke="#303030" stroke-width="0.18">10</text>
<line x1="105.20" y1="320.10" x2="105.20" y2="318.10" stroke="#333" stroke-width="0.9"/>
<text transform="translate(105.45,331.45) scale(0.93,1.09)" font-size="8.8" text-anchor="middle" fill="#303030" stroke="#303030" stroke-width="0.18">15</text>
<line x1="133.70" y1="320.10" x2="133.70" y2="318.10" stroke="#333" stroke-width="0.9"/>
<text transform="translate(133.95,331.45) scale(0.93,1.09)" font-size="8.8" text-anchor="middle" fill="#303030" stroke="#303030" stroke-width="0.18">20</text>
<line x1="19.45" y1="261.90" x2="21.35" y2="261.90" stroke="#333" stroke-width="0.9"/>
<text transform="translate(16.50,265.20) scale(0.93,1.09)" font-size="8.8" text-anchor="end" fill="#303030" stroke="#303030" stroke-width="0.18">2</text>
<line x1="19.45" y1="291.15" x2="21.35" y2="291.15" stroke="#333" stroke-width="0.9"/>
<text transform="translate(16.50,294.45) scale(0.93,1.09)" font-size="8.8" text-anchor="end" fill="#303030" stroke="#303030" stroke-width="0.18">1</text>
<line x1="19.45" y1="319.90" x2="21.35" y2="319.90" stroke="#333" stroke-width="0.9"/>
<text transform="translate(16.50,323.20) scale(0.93,1.09)" font-size="8.8" text-anchor="end" fill="#303030" stroke="#303030" stroke-width="0.18">0</text>
<line x1="226.35" y1="264.90" x2="228.10" y2="264.90" stroke="#2f84c8" stroke-width="1.0" stroke-opacity="0.8"/>
<line x1="226.90" y1="268.50" x2="227.40" y2="268.50" stroke="#2f84c8" stroke-width="1.0" stroke-opacity="0.3"/>
<line x1="225.85" y1="272.40" x2="229.10" y2="272.40" stroke="#2f84c8" stroke-width="1.0"/>
<line x1="225.60" y1="275.90" x2="227.60" y2="275.90" stroke="#2f84c8" stroke-width="1.0" stroke-opacity="0.9"/>
<line x1="225.10" y1="279.65" x2="228.85" y2="279.65" stroke="#2f84c8" stroke-width="1.0"/>
<line x1="224.90" y1="283.15" x2="225.40" y2="283.15" stroke="#2f84c8" stroke-width="1.0" stroke-opacity="0.3"/>
<line x1="224.35" y1="286.65" x2="227.35" y2="286.65" stroke="#2f84c8" stroke-width="1.0"/>
<line x1="224.60" y1="290.40" x2="228.10" y2="290.40" stroke="#2f84c8" stroke-width="1.0"/>
<line x1="224.35" y1="293.90" x2="226.10" y2="293.90" stroke="#2f84c8" stroke-width="1.0"/>
<line x1="224.35" y1="297.65" x2="229.60" y2="297.65" stroke="#2f84c8" stroke-width="1.0"/>
<line x1="223.85" y1="301.15" x2="226.35" y2="301.15" stroke="#2f84c8" stroke-width="1.0"/>
<line x1="223.85" y1="304.90" x2="229.60" y2="304.90" stroke="#2f84c8" stroke-width="1.6" stroke-opacity="0.65"/>
<line x1="223.35" y1="308.40" x2="224.10" y2="308.40" stroke="#2f84c8" stroke-width="1.0" stroke-opacity="0.8"/>
<line x1="223.10" y1="312.15" x2="229.85" y2="312.15" stroke="#2f84c8" stroke-width="1.0"/>
<line x1="222.35" y1="315.65" x2="225.10" y2="315.65" stroke="#2f84c8" stroke-width="1.5" stroke-opacity="0.55"/>
<line x1="197.30" y1="261.60" x2="197.30" y2="320.30" stroke="#333" stroke-width="1.15"/>
<line x1="196.75" y1="319.80" x2="333.00" y2="319.80" stroke="#333" stroke-width="1.15"/>
<line x1="197.30" y1="319.80" x2="197.30" y2="317.80" stroke="#333" stroke-width="0.9"/>
<text transform="translate(197.55,331.15) scale(0.93,1.09)" font-size="8.8" text-anchor="middle" fill="#303030" stroke="#303030" stroke-width="0.18">0</text>
<line x1="225.50" y1="319.80" x2="225.50" y2="317.80" stroke="#333" stroke-width="0.9"/>
<text transform="translate(225.75,331.15) scale(0.93,1.09)" font-size="8.8" text-anchor="middle" fill="#303030" stroke="#303030" stroke-width="0.18">5</text>
<line x1="253.70" y1="319.80" x2="253.70" y2="317.80" stroke="#333" stroke-width="0.9"/>
<text transform="translate(253.95,331.15) scale(0.93,1.09)" font-size="8.8" text-anchor="middle" fill="#303030" stroke="#303030" stroke-width="0.18">10</text>
<line x1="282.00" y1="319.80" x2="282.00" y2="317.80" stroke="#333" stroke-width="0.9"/>
<text transform="translate(282.25,331.15) scale(0.93,1.09)" font-size="8.8" text-anchor="middle" fill="#303030" stroke="#303030" stroke-width="0.18">15</text>
<line x1="310.10" y1="319.80" x2="310.10" y2="317.80" stroke="#333" stroke-width="0.9"/>
<text transform="translate(310.35,331.15) scale(0.93,1.09)" font-size="8.8" text-anchor="middle" fill="#303030" stroke="#303030" stroke-width="0.18">20</text>
<line x1="197.30" y1="265.25" x2="199.20" y2="265.25" stroke="#333" stroke-width="0.9"/>
<text transform="translate(195.00,268.55) scale(0.93,1.09)" font-size="8.8" text-anchor="end" fill="#303030" stroke="#303030" stroke-width="0.18">15</text>
<line x1="197.30" y1="283.40" x2="199.20" y2="283.40" stroke="#333" stroke-width="0.9"/>
<text transform="translate(195.00,286.70) scale(0.93,1.09)" font-size="8.8" text-anchor="end" fill="#303030" stroke="#303030" stroke-width="0.18">10</text>
<line x1="197.30" y1="301.50" x2="199.20" y2="301.50" stroke="#333" stroke-width="0.9"/>
<text transform="translate(195.00,304.80) scale(0.93,1.09)" font-size="8.8" text-anchor="end" fill="#303030" stroke="#303030" stroke-width="0.18">5</text>
<line x1="197.30" y1="319.60" x2="199.20" y2="319.60" stroke="#333" stroke-width="0.9"/>
<text transform="translate(195.00,322.90) scale(0.93,1.09)" font-size="8.8" text-anchor="end" fill="#303030" stroke="#303030" stroke-width="0.18">0</text>
<line x1="411.35" y1="280.90" x2="413.35" y2="280.90" stroke="#2f84c8" stroke-width="1.0" stroke-opacity="0.8"/>
<line x1="401.85" y1="300.40" x2="409.60" y2="300.40" stroke="#2f84c8" stroke-width="1.0" stroke-opacity="0.9"/>
<line x1="373.30" y1="260.80" x2="373.30" y2="320.10" stroke="#333" stroke-width="1.15"/>
<line x1="372.75" y1="319.60" x2="509.30" y2="319.60" stroke="#333" stroke-width="1.15"/>
<line x1="373.70" y1="319.60" x2="373.70" y2="317.60" stroke="#333" stroke-width="0.9"/>
<text transform="translate(373.95,330.95) scale(0.93,1.09)" font-size="8.8" text-anchor="middle" fill="#303030" stroke="#303030" stroke-width="0.18">0</text>
<line x1="401.70" y1="319.60" x2="401.70" y2="317.60" stroke="#333" stroke-width="0.9"/>
<text transform="translate(401.95,330.95) scale(0.93,1.09)" font-size="8.8" text-anchor="middle" fill="#303030" stroke="#303030" stroke-width="0.18">5</text>
<line x1="429.70" y1="319.60" x2="429.70" y2="317.60" stroke="#333" stroke-width="0.9"/>
<text transform="translate(429.95,330.95) scale(0.93,1.09)" font-size="8.8" text-anchor="middle" fill="#303030" stroke="#303030" stroke-width="0.18">10</text>
<line x1="457.95" y1="319.60" x2="457.95" y2="317.60" stroke="#333" stroke-width="0.9"/>
<text transform="translate(458.20,330.95) scale(0.93,1.09)" font-size="8.8" text-anchor="middle" fill="#303030" stroke="#303030" stroke-width="0.18">15</text>
<line x1="486.00" y1="319.60" x2="486.00" y2="317.60" stroke="#333" stroke-width="0.9"/>
<text transform="translate(486.25,330.95) scale(0.93,1.09)" font-size="8.8" text-anchor="middle" fill="#303030" stroke="#303030" stroke-width="0.18">20</text>
<line x1="373.30" y1="261.40" x2="375.20" y2="261.40" stroke="#333" stroke-width="0.9"/>
<text transform="translate(371.35,264.70) scale(0.93,1.09)" font-size="8.8" text-anchor="end" fill="#303030" stroke="#303030" stroke-width="0.18">3</text>
<line x1="373.30" y1="280.90" x2="375.20" y2="280.90" stroke="#333" stroke-width="0.9"/>
<text transform="translate(371.35,284.20) scale(0.93,1.09)" font-size="8.8" text-anchor="end" fill="#303030" stroke="#303030" stroke-width="0.18">2</text>
<line x1="373.30" y1="300.40" x2="375.20" y2="300.40" stroke="#333" stroke-width="0.9"/>
<text transform="translate(371.35,303.70) scale(0.93,1.09)" font-size="8.8" text-anchor="end" fill="#303030" stroke="#303030" stroke-width="0.18">1</text>
<line x1="373.30" y1="319.40" x2="375.20" y2="319.40" stroke="#333" stroke-width="0.9"/>
<text transform="translate(371.35,322.70) scale(0.93,1.09)" font-size="8.8" text-anchor="end" fill="#303030" stroke="#303030" stroke-width="0.18">0</text>
<line x1="580.35" y1="265.90" x2="590.10" y2="265.90" stroke="#2f84c8" stroke-width="1.3" stroke-opacity="0.8"/>
<line x1="571.60" y1="271.50" x2="575.60" y2="271.50" stroke="#2f84c8" stroke-width="1.1"/>
<line x1="571.10" y1="276.90" x2="574.35" y2="276.90" stroke="#2f84c8" stroke-width="1.1"/>
<line x1="570.60" y1="281.90" x2="573.10" y2="281.90" stroke="#2f84c8" stroke-width="1.1" stroke-opacity="0.85"/>
<line x1="570.85" y1="287.40" x2="571.85" y2="287.40" stroke="#2f84c8" stroke-width="1.1" stroke-opacity="0.4"/>
<line x1="570.10" y1="292.65" x2="572.85" y2="292.65" stroke="#2f84c8" stroke-width="1.1"/>
<line x1="570.35" y1="297.90" x2="575.35" y2="297.90" stroke="#2f84c8" stroke-width="1.1"/>
<line x1="569.60" y1="303.15" x2="570.60" y2="303.15" stroke="#2f84c8" stroke-width="1.1" stroke-opacity="0.65"/>
<line x1="569.35" y1="308.40" x2="581.85" y2="308.40" stroke="#2f84c8" stroke-width="1.1"/>
<line x1="567.85" y1="313.40" x2="573.85" y2="313.40" stroke="#2f84c8" stroke-width="1.1"/>
<line x1="542.80" y1="260.55" x2="542.80" y2="319.35" stroke="#333" stroke-width="1.15"/>
<line x1="542.25" y1="318.85" x2="678.80" y2="318.85" stroke="#333" stroke-width="1.15"/>
<line x1="543.20" y1="318.85" x2="543.20" y2="316.85" stroke="#333" stroke-width="0.9"/>
<text transform="translate(543.45,330.20) scale(0.93,1.09)" font-size="8.8" text-anchor="middle" fill="#303030" stroke="#303030" stroke-width="0.18">0</text>
<line x1="571.20" y1="318.85" x2="571.20" y2="316.85" stroke="#333" stroke-width="0.9"/>
<text transform="translate(571.45,330.20) scale(0.93,1.09)" font-size="8.8" text-anchor="middle" fill="#303030" stroke="#303030" stroke-width="0.18">5</text>
<line x1="599.20" y1="318.85" x2="599.20" y2="316.85" stroke="#333" stroke-width="0.9"/>
<text transform="translate(599.45,330.20) scale(0.93,1.09)" font-size="8.8" text-anchor="middle" fill="#303030" stroke="#303030" stroke-width="0.18">10</text>
<line x1="627.20" y1="318.85" x2="627.20" y2="316.85" stroke="#333" stroke-width="0.9"/>
<text transform="translate(627.45,330.20) scale(0.93,1.09)" font-size="8.8" text-anchor="middle" fill="#303030" stroke="#303030" stroke-width="0.18">15</text>
<line x1="655.20" y1="318.85" x2="655.20" y2="316.85" stroke="#333" stroke-width="0.9"/>
<text transform="translate(655.45,330.20) scale(0.93,1.09)" font-size="8.8" text-anchor="middle" fill="#303030" stroke="#303030" stroke-width="0.18">20</text>
<line x1="542.80" y1="266.00" x2="544.70" y2="266.00" stroke="#333" stroke-width="0.9"/>
<text transform="translate(540.80,269.30) scale(0.93,1.09)" font-size="8.8" text-anchor="end" fill="#303030" stroke="#303030" stroke-width="0.18">10</text>
<line x1="542.80" y1="292.50" x2="544.70" y2="292.50" stroke="#333" stroke-width="0.9"/>
<text transform="translate(540.80,295.80) scale(0.93,1.09)" font-size="8.8" text-anchor="end" fill="#303030" stroke="#303030" stroke-width="0.18">5</text>
<line x1="542.80" y1="318.65" x2="544.70" y2="318.65" stroke="#333" stroke-width="0.9"/>
<text transform="translate(540.80,321.95) scale(0.93,1.09)" font-size="8.8" text-anchor="end" fill="#303030" stroke="#303030" stroke-width="0.18">0</text>
<text x="28.00" y="8.90" font-size="9.6" text-anchor="start" font-weight="bold" fill="#111" textLength="27.6" lengthAdjust="spacingAndGlyphs">TMAO</text>
<text x="204.30" y="8.40" font-size="9.6" text-anchor="start" font-weight="bold" fill="#111" textLength="27.6" lengthAdjust="spacingAndGlyphs">TMAO</text>
<text x="382.60" y="7.70" font-size="9.6" text-anchor="start" font-weight="bold" fill="#111" textLength="27.6" lengthAdjust="spacingAndGlyphs">TMAO</text>
<text x="552.10" y="7.70" font-size="9.6" text-anchor="start" font-weight="bold" fill="#111" textLength="27.6" lengthAdjust="spacingAndGlyphs">TMAO</text>
<text x="28.60" y="174.30" font-size="10.2" text-anchor="start" font-weight="bold" fill="#111">urea</text>
<text x="204.50" y="174.10" font-size="10.2" text-anchor="start" font-weight="bold" fill="#111">urea</text>
<text x="382.60" y="174.10" font-size="10.2" text-anchor="start" font-weight="bold" fill="#111">urea</text>
<text x="553.00" y="174.30" font-size="10.2" text-anchor="start" font-weight="bold" fill="#111">urea</text>
<text x="153.70" y="9.10" font-size="9.9" font-weight="bold" fill="#111">(a<tspan font-size="7" dy="2.1">1</tspan><tspan dy="-2.1">)</tspan></text>
<text x="330.50" y="9.30" font-size="9.9" font-weight="bold" fill="#111">(a<tspan font-size="7" dy="2.1">2</tspan><tspan dy="-2.1">)</tspan></text>
<text x="501.20" y="8.80" font-size="9.9" font-weight="bold" fill="#111">(a<tspan font-size="7" dy="2.1">3</tspan><tspan dy="-2.1">)</tspan></text>
<text x="669.10" y="7.80" font-size="9.9" font-weight="bold" fill="#111">(a<tspan font-size="7" dy="2.1">4</tspan><tspan dy="-2.1">)</tspan></text>
<text x="153.60" y="174.30" font-size="9.9" font-weight="bold" fill="#111">(b<tspan font-size="7" dy="2.1">1</tspan><tspan dy="-2.1">)</tspan></text>
<text x="330.30" y="173.10" font-size="9.9" font-weight="bold" fill="#111">(b<tspan font-size="7" dy="2.1">2</tspan><tspan dy="-2.1">)</tspan></text>
<text x="498.90" y="171.80" font-size="9.9" font-weight="bold" fill="#111">(b<tspan font-size="7" dy="2.1">3</tspan><tspan dy="-2.1">)</tspan></text>
<text x="668.20" y="174.60" font-size="9.9" font-weight="bold" fill="#111">(b<tspan font-size="7" dy="2.1">4</tspan><tspan dy="-2.1">)</tspan></text>
<text x="0.50" y="38.60" font-size="10.5" font-weight="bold" fill="#111" stroke="#111" stroke-width="0.25">β<tspan font-size="7.6" dy="2.6">0</tspan></text>
<text x="0.50" y="109.60" font-size="10.5" font-weight="bold" fill="#111" stroke="#111" stroke-width="0.25">β<tspan font-size="7.6" dy="2.6">1</tspan></text>
<text x="0.00" y="201.90" font-size="10.5" font-weight="bold" fill="#111" stroke="#111" stroke-width="0.25">β<tspan font-size="7.6" dy="2.6">0</tspan></text>
<text x="0.00" y="292.10" font-size="10.5" font-weight="bold" fill="#111" stroke="#111" stroke-width="0.25">β<tspan font-size="7.6" dy="2.6">1</tspan></text>
<text x="79.60" y="171.10" font-size="10" text-anchor="start" font-weight="normal" fill="#2b2b2b" textLength="64.5" lengthAdjust="spacingAndGlyphs">filtration value</text>
<text x="249.60" y="171.10" font-size="10" text-anchor="start" font-weight="normal" fill="#2b2b2b" textLength="64.5" lengthAdjust="spacingAndGlyphs">filtration value</text>
<text x="419.70" y="171.10" font-size="10" text-anchor="start" font-weight="normal" fill="#2b2b2b" textLength="64.5" lengthAdjust="spacingAndGlyphs">filtration value</text>
<text x="591.10" y="171.10" font-size="10" text-anchor="start" font-weight="normal" fill="#2b2b2b" textLength="64.5" lengthAdjust="spacingAndGlyphs">filtration value</text>
<text x="60.85" y="341.70" font-size="10" text-anchor="start" font-weight="normal" fill="#2b2b2b" textLength="64.5" lengthAdjust="spacingAndGlyphs">filtration value</text>
<text x="236.60" y="341.70" font-size="10" text-anchor="start" font-weight="normal" fill="#2b2b2b" textLength="64.5" lengthAdjust="spacingAndGlyphs">filtration value</text>
<text x="411.60" y="341.70" font-size="10" text-anchor="start" font-weight="normal" fill="#2b2b2b" textLength="64.5" lengthAdjust="spacingAndGlyphs">filtration value</text>
<text x="587.10" y="341.70" font-size="10" text-anchor="start" font-weight="normal" fill="#2b2b2b" textLength="64.5" lengthAdjust="spacingAndGlyphs">filtration value</text>
</svg>
</body></html>
